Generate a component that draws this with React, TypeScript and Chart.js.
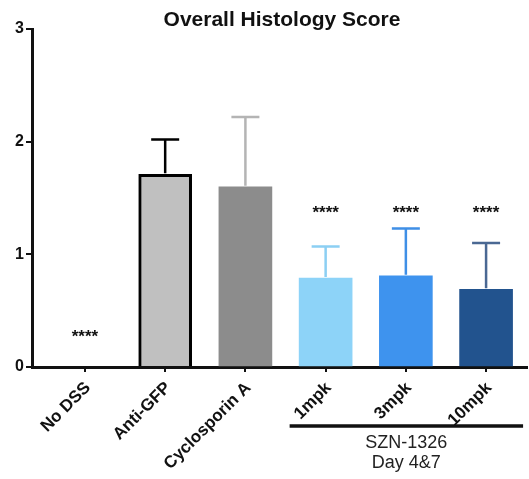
import React, { useEffect, useRef } from "react";
import { Chart, registerables } from "chart.js";

Chart.register(...registerables);

// ---- data ----
const categories = ["No DSS", "Anti-GFP", "Cyclosporin A", "1mpk", "3mpk", "10mpk"];
const means = [0, 1.71, 1.6, 0.79, 0.81, 0.69];
const sds = [0, 0.31, 0.62, 0.28, 0.42, 0.41];
const significance = ["****", "", "", "****", "****", "****"];
const sigLevels = [0.3, 0, 0, 1.4, 1.4, 1.4];
const yTicks = [0, 1, 2, 3];
const groupLines = ["SZN-1326", "Day 4&7"];
const groupFrom = 3;
const groupTo = 5;
const titleText = "Overall Histology Score";

// ---- styles ----
const FONT = "'Liberation Sans', Arial, Helvetica, sans-serif";
const barColors = ["#c0c0c0", "#c0c0c0", "#8c8c8c", "#8dd3f8", "#3e93ee", "#22538e"];
const barBorderColors = ["#000000", "#000000", "#8c8c8c", "#8dd3f8", "#3e93ee", "#22538e"];
const barBorderWidths = [3, 3, 0, 0, 0, 0];
const errColors = ["#000000", "#000000", "#b4b4b4", "#8ccff3", "#3f8fe6", "#4a6893"];

const overlay = {
  id: "overlay",
  afterDatasetsDraw(chart: any) {
    const { ctx } = chart;
    const x = chart.scales.x;
    const y = chart.scales.y;
    means.forEach((m, i) => {
      if (!sds[i]) return;
      const px = x.getPixelForValue(i);
      const y0 = y.getPixelForValue(m);
      const y1 = y.getPixelForValue(m + sds[i]);
      ctx.save();
      ctx.strokeStyle = errColors[i];
      ctx.lineWidth = 2.5;
      ctx.beginPath();
      ctx.moveTo(px, y0 - 1);
      ctx.lineTo(px, y1);
      ctx.moveTo(px - 14, y1);
      ctx.lineTo(px + 14, y1);
      ctx.stroke();
      ctx.restore();
    });
  },
  afterDraw(chart: any) {
    const { ctx } = chart;
    const x = chart.scales.x;
    const y = chart.scales.y;
    ctx.save();
    // title
    ctx.fillStyle = "#111";
    ctx.font = `bold 21px ${FONT}`;
    ctx.textAlign = "center";
    ctx.textBaseline = "alphabetic";
    ctx.fillText(titleText, 282, 25.5);
    // significance stars
    ctx.font = `bold 17px ${FONT}`;
    significance.forEach((s, i) => {
      if (!s) return;
      const px = x.getPixelForValue(i);
      const py = y.getPixelForValue(sigLevels[i]);
      ctx.fillText(s, px, py + 8.5);
    });
    // group bracket
    const x0 = x.getPixelForValue(groupFrom) - 36;
    const x1 = x.getPixelForValue(groupTo) + 37;
    ctx.strokeStyle = "#111";
    ctx.lineWidth = 3.5;
    ctx.beginPath();
    ctx.moveTo(x0, 426);
    ctx.lineTo(x1, 426);
    ctx.stroke();
    ctx.fillStyle = "#222";
    ctx.font = `18px ${FONT}`;
    const cx = (x0 + x1) / 2;
    ctx.fillText(groupLines[0], cx, 448);
    ctx.fillText(groupLines[1], cx, 468);
    ctx.restore();
  },
};

export default function App() {
  const ref = useRef<HTMLCanvasElement>(null);
  useEffect(() => {
    if (!ref.current) return;
    Chart.defaults.font.family = FONT;
    const chart = new Chart(ref.current, {
      type: "bar",
      data: {
        datasets: [
          {
            data: means.map((m, i) => ({ x: i, y: m })) as any,
            backgroundColor: barColors,
            borderColor: barBorderColors,
            borderWidth: barBorderWidths,
            barThickness: 53,
          },
        ],
      },
      options: {
        responsive: false,
        animation: false,
        devicePixelRatio: 1,
        layout: { padding: { top: 29, right: 2, left: 0, bottom: 0 } },
        plugins: { legend: { display: false }, tooltip: { enabled: false }, title: { display: false } },
        scales: {
          x: {
            type: "linear",
            min: -0.66,
            max: 5.51,
            offset: false,
            z: 1,
            afterBuildTicks: (s: any) => {
              s.ticks = categories.map((_, i) => ({ value: i }));
            },
            afterFit: (s: any) => {
              s.height = 112;
            },
            ticks: {
              autoSkip: false,
              minRotation: 45,
              maxRotation: 45,
              color: "#111",
              font: { size: 17, weight: "bold", family: FONT },
              padding: 6,
              labelOffset: 3,
              callback: (v: any) => categories[v] ?? "",
            },
            grid: { offset: false, drawOnChartArea: false, tickLength: 5, color: "#111", lineWidth: 2 },
            border: { color: "#111", width: 3 },
          },
          y: {
            type: "linear",
            min: 0,
            max: 3,
            z: 1,
            afterBuildTicks: (s: any) => {
              s.ticks = yTicks.map((v) => ({ value: v }));
            },
            afterFit: (s: any) => {
              s.width = 32;
            },
            ticks: {
              color: "#111",
              font: { size: 16, weight: "bold", family: FONT },
              padding: 2,
            },
            grid: { drawOnChartArea: false, tickLength: 6, color: "#111", lineWidth: 2 },
            border: { color: "#111", width: 3 },
          },
        },
      } as any,
      plugins: [overlay],
    });
    return () => chart.destroy();
  }, []);
  return (
    <div style={{ position: "fixed", left: 0, top: 0, width: 529, height: 479, background: "#fff" }}>
      <canvas ref={ref} width={529} height={479} />
    </div>
  );
}
